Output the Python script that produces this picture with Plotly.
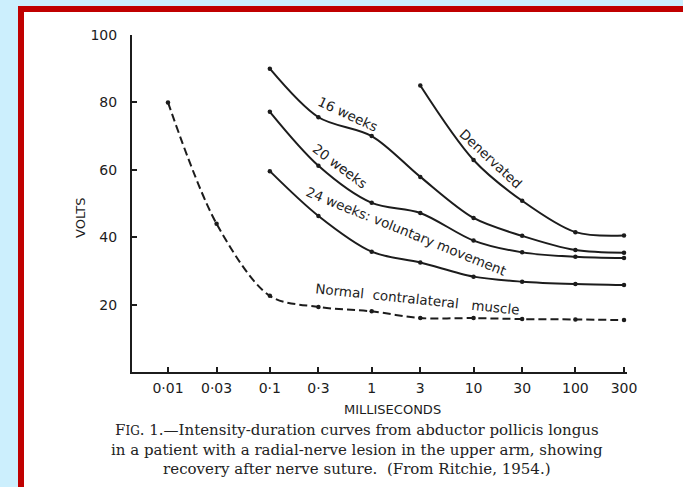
import plotly.graph_objects as go
import math

# ---- data ----
durations = [0.01, 0.03, 0.1, 0.3, 1, 3, 10, 30, 100, 300]
tick_text = ["0·01", "0·03", "0·1", "0·3", "1", "3", "10", "30", "100", "300"]
y_ticks = [20, 40, 60, 80, 100]

normal_x = [0.01, 0.03, 0.1, 0.3, 1, 3, 10, 30, 100, 300]
normal_v = [80, 44, 22.6, 19.3, 18, 16, 16, 15.7, 15.6, 15.4]

weeks24_x = [0.1, 0.3, 1, 3, 10, 30, 100, 300]
weeks24_v = [59.6, 46.3, 35.7, 32.5, 28.3, 26.8, 26.1, 25.8]

weeks20_x = [0.1, 0.3, 1, 3, 10, 30, 100, 300]
weeks20_v = [77.2, 61.2, 50.2, 47.2, 39.0, 35.5, 34.2, 33.8]

weeks16_x = [0.1, 0.3, 1, 3, 10, 30, 100, 300]
weeks16_v = [90, 75.6, 70, 57.9, 45.7, 40.4, 36.2, 35.4]

denerv_x = [3, 10, 30, 100, 300]
denerv_v = [85, 62.9, 50.8, 41.5, 40.5]

INK = "#1c1c1c"
SANS = "DejaVu Sans"
SERIF = "DejaVu Serif"

fig = go.Figure()

def curve(x, v, dash="solid"):
    fig.add_trace(go.Scatter(
        x=x, y=v, mode="lines+markers",
        line=dict(color=INK, width=2, dash=dash, shape="spline", smoothing=0.9),
        marker=dict(color=INK, size=4.5),
        showlegend=False, hoverinfo="skip"))

curve(normal_x, normal_v, dash="8px,4px")
curve(weeks24_x, weeks24_v)
curve(weeks20_x, weeks20_v)
curve(weeks16_x, weeks16_v)
curve(denerv_x, denerv_v)

# ---- layout geometry (pixels) ----
W, H = 683, 487
L, R, T, B = 132, 56, 35, 115
pw, ph = W - L - R, H - T - B

def px(xp):
    return (xp - L) / pw

def py(yp):
    return (H - B - yp) / ph

shapes = [
    dict(type="rect", xref="paper", yref="paper", x0=px(18), x1=px(700), y0=py(6), y1=py(500),
         fillcolor="#c00000", line=dict(width=0), layer="below"),
    dict(type="rect", xref="paper", yref="paper", x0=px(24), x1=px(700), y0=py(12), y1=py(500),
         fillcolor="white", line=dict(width=0), layer="below"),
]

lab_font = dict(family=SANS, size=13.5, color=INK)
annotations = [
    dict(x=-0.233, y=76.6, text="16 weeks", textangle=25),
    dict(x=-0.312, y=61.1, text="20 weeks", textangle=37),
    dict(x=0.336, y=41.8, text="24 weeks: voluntary movement", textangle=22),
    dict(x=1.175, y=63.2, text="Denervated", textangle=43),
    dict(x=0.449, y=21.7, text="Normal  contralateral   muscle", textangle=6),
]
annotations = [dict(a, xref="x", yref="y", showarrow=False, font=lab_font,
                    xanchor="center", yanchor="middle") for a in annotations]

annotations.append(dict(xref="paper", yref="paper", x=px(80), y=py(218), text="VOLTS",
                        textangle=-90, showarrow=False, font=dict(family=SANS, size=13, color=INK),
                        xanchor="center", yanchor="middle"))
annotations.append(dict(xref="paper", yref="paper", x=px(392), y=py(410), text="MILLISECONDS",
                        showarrow=False, font=dict(family=SANS, size=13, color=INK),
                        xanchor="center", yanchor="middle"))

caption = ("F<span style='font-size:12px'>IG</span>. 1.—Intensity-duration curves from abductor pollicis longus"
           "<br>in a patient with a radial-nerve lesion in the upper arm, showing"
           "<br>recovery after nerve suture.  (From Ritchie, 1954.)")
annotations.append(dict(xref="paper", yref="paper", x=px(357), y=py(449), text=caption,
                        showarrow=False, font=dict(family=SERIF, size=15, color="#222222"),
                        xanchor="center", yanchor="middle", align="center"))

x_lo = math.log10(0.01) - (168 - L) / 101.9
x_hi = math.log10(300) + (627 - 624) / 101.9

fig.update_layout(
    width=W, height=H,
    margin=dict(l=L, r=R, t=T, b=B, pad=0),
    paper_bgcolor="#cceffd",
    plot_bgcolor="rgba(0,0,0,0)",
    shapes=shapes,
    annotations=annotations,
    xaxis=dict(type="log", range=[x_lo, x_hi], tickvals=durations, ticktext=tick_text,
               ticks="inside", ticklen=5, tickwidth=1.5, tickcolor=INK,
               showline=True, linecolor=INK, linewidth=2, showgrid=False, zeroline=False,
               tickfont=dict(family=SANS, size=14, color=INK), ticklabelstandoff=2),
    yaxis=dict(range=[0, 100], tickvals=y_ticks, ticktext=[str(v) for v in y_ticks],
               ticks="inside", ticklen=5, tickwidth=1.5, tickcolor=INK,
               showline=True, linecolor=INK, linewidth=2, showgrid=False, zeroline=False,
               tickfont=dict(family=SANS, size=14, color=INK), ticklabelstandoff=10),
)

fig.write_html("out.html")
